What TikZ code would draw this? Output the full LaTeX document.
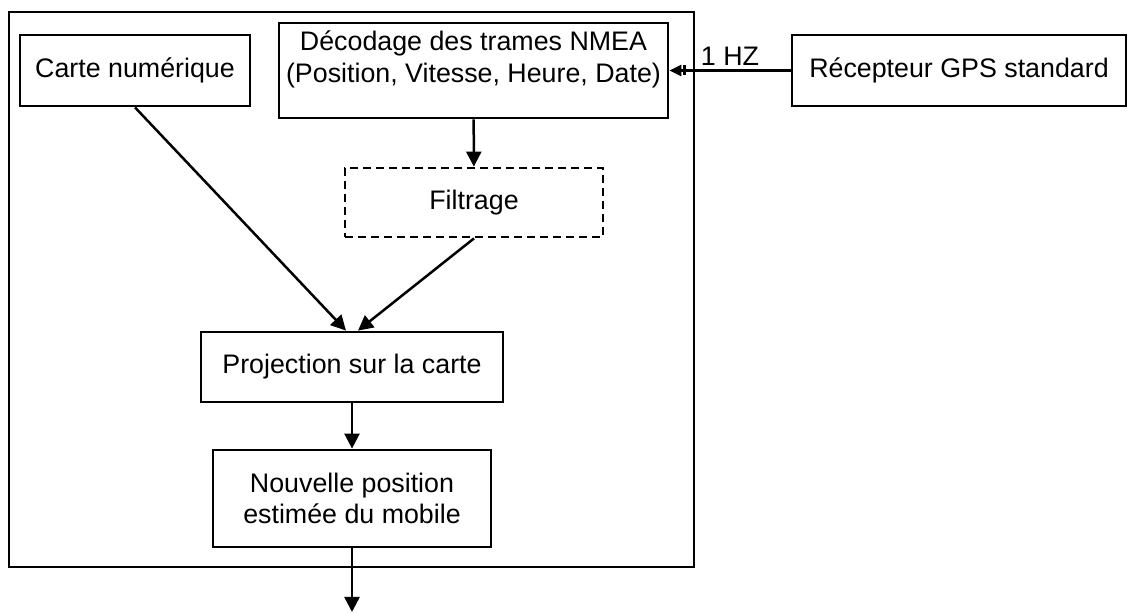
\documentclass[tikz,border=0pt]{standalone}
\usepackage{fontspec}
\setmainfont{Liberation Sans}
\usetikzlibrary{arrows.meta}

\begin{document}
\begin{tikzpicture}[x=0.5pt,y=-0.5pt,
  bloc/.style={draw, line width=1.4pt, align=center, inner sep=0pt,
    font=\fontsize{13.4}{15.8}\selectfont},
  fleche/.style={line width=1.25pt, -{Triangle[length=7.5pt,width=7.5pt]}}]

  %–– Cadre de la page ––
  \useasboundingbox (0,0) rectangle (1129,613);

  %–– Cadre du système ––
  \node[draw, line width=1.4pt, minimum width=342.5pt, minimum height=277.5pt]
    (systeme) at (351.5,289.5) {};

  %–– Blocs ––
  \node[bloc, minimum width=115pt, minimum height=35.5pt]
    (carte) at (135,70.5) {Carte numérique};

  \node[bloc, text depth=14pt, minimum width=194.5pt, minimum height=47.5pt]
    (decodage) at (473.5,70.5)
    {Décodage des trames NMEA\\(Position, Vitesse, Heure, Date)};

  \node[bloc, minimum width=167pt, minimum height=35.5pt]
    (recepteur) at (959,70.5) {Récepteur GPS standard};

  \node[bloc, dash pattern=on 4pt off 2.5pt, minimum width=129pt, minimum height=34.5pt]
    (filtrage) at (474,202.5) {Filtrage};

  \node[bloc, minimum width=151pt, minimum height=35pt]
    (projection) at (352,367) {Projection sur la carte};

  \node[bloc, minimum width=139pt, minimum height=48.5pt]
    (nouvelle) at (352,498.5) {Nouvelle position\\estimée du mobile};

  \coordinate (sortie) at (352,612);

  %–– Liaisons ––
  \draw[line width=1.25pt, -{Bar[width=5pt,sep=0.8pt]Triangle[length=6pt,width=5.5pt]}]
    (recepteur) -- node[above, inner sep=2pt, font=\fontsize{13.4}{15.8}\selectfont] {1 HZ} (decodage);

  \draw[fleche] (decodage) -- (filtrage);
  \draw[fleche] (carte.south) -- ([xshift=-3pt]projection.north);
  \draw[fleche] (filtrage.south) -- ([xshift=3pt]projection.north);
  \draw[fleche] (projection) -- (nouvelle);
  \draw[fleche] (nouvelle) -- (sortie);

\end{tikzpicture}
\end{document}
